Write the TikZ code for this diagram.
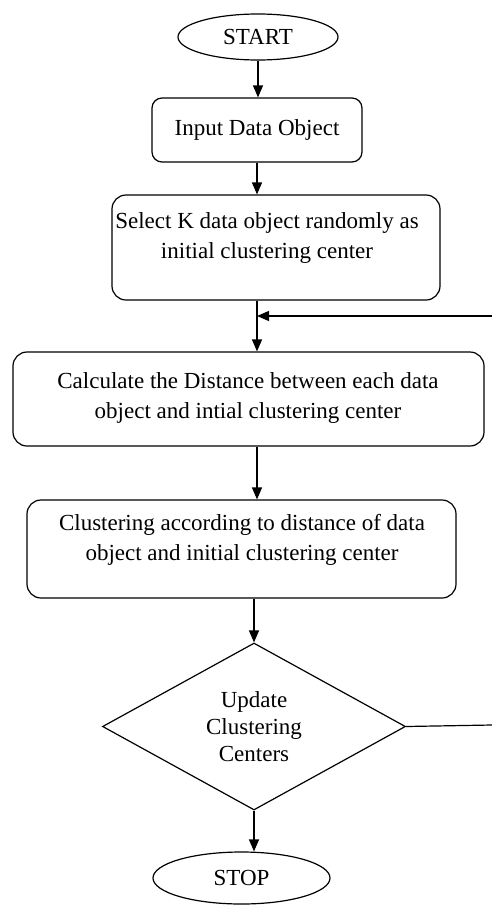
\documentclass[tikz,border=0pt]{standalone}
\usepackage{fontspec}
\setmainfont{Liberation Serif}
\usetikzlibrary{shapes.geometric,arrows.meta}

\tikzset{
  box/.style={draw, rounded corners=14pt, line width=1.2pt, inner sep=0pt},
  txt/.style={align=center, inner sep=0pt},
  term/.style={draw, ellipse, line width=1.2pt, inner sep=0pt},
  decide/.style={draw, diamond, line width=1.2pt, inner sep=0pt, align=center, font=\fontsize{23}{27}\selectfont},
  arr/.style={-{Triangle[length=12pt,width=10pt]}, line width=1.2pt}
}

\begin{document}
\begin{tikzpicture}[x=1pt,y=-1pt,font=\fontsize{23}{30}\selectfont]
    \useasboundingbox (0,0) rectangle (492,905);
    \node[term, minimum width=160pt, minimum height=46pt] (start) at (258,37) {START};
    \node[box, rounded corners=10pt, minimum width=210pt, minimum height=64pt] (input) at (257,130) {Input Data Object};
    \node[box, minimum width=328pt, minimum height=105pt] (select) at (276,247.5) {};
    \node[txt] (selecttxt) at (267,237.5) {Select K data object randomly as\\initial clustering center};
    \node[box, minimum width=471pt, minimum height=94pt] (calc) at (248.5,399) {};
    \node[txt] (calctxt) at (248,398) {Calculate the Distance between each data\\object and intial clustering center};
    \node[box, minimum width=429pt, minimum height=98pt] (cluster) at (241.5,549) {};
    \node[txt] (clustertxt) at (242,540) {Clustering according to distance of data\\object and initial clustering center};
    \node[decide, minimum width=303pt, minimum height=167pt] (update) at (254,726.5) {Update\\Clustering\\Centers};
    \node[term, minimum width=177pt, minimum height=52pt] (stop) at (241.5,878) {STOP};
    \coordinate (join) at (257,316);
    \coordinate (back) at (492,316);
    \coordinate (out) at (492,725);
    \draw[arr] (start) -- (start |- input.north);
    \draw[arr] (input) -- (input |- select.north);
    \draw[arr] (select.south -| join) -- (calc.north -| join);
    \draw[arr] (back) -- (join);
    \draw[arr] (calc.south -| join) -- (cluster.north -| join);
    \draw[arr] (cluster.south -| update.north) -- (update.north);
    \draw[line width=1.2pt] (update.east) -- (out);
    \draw[arr] (update.south) -- (stop.north -| update.south);
\end{tikzpicture}
\end{document}
